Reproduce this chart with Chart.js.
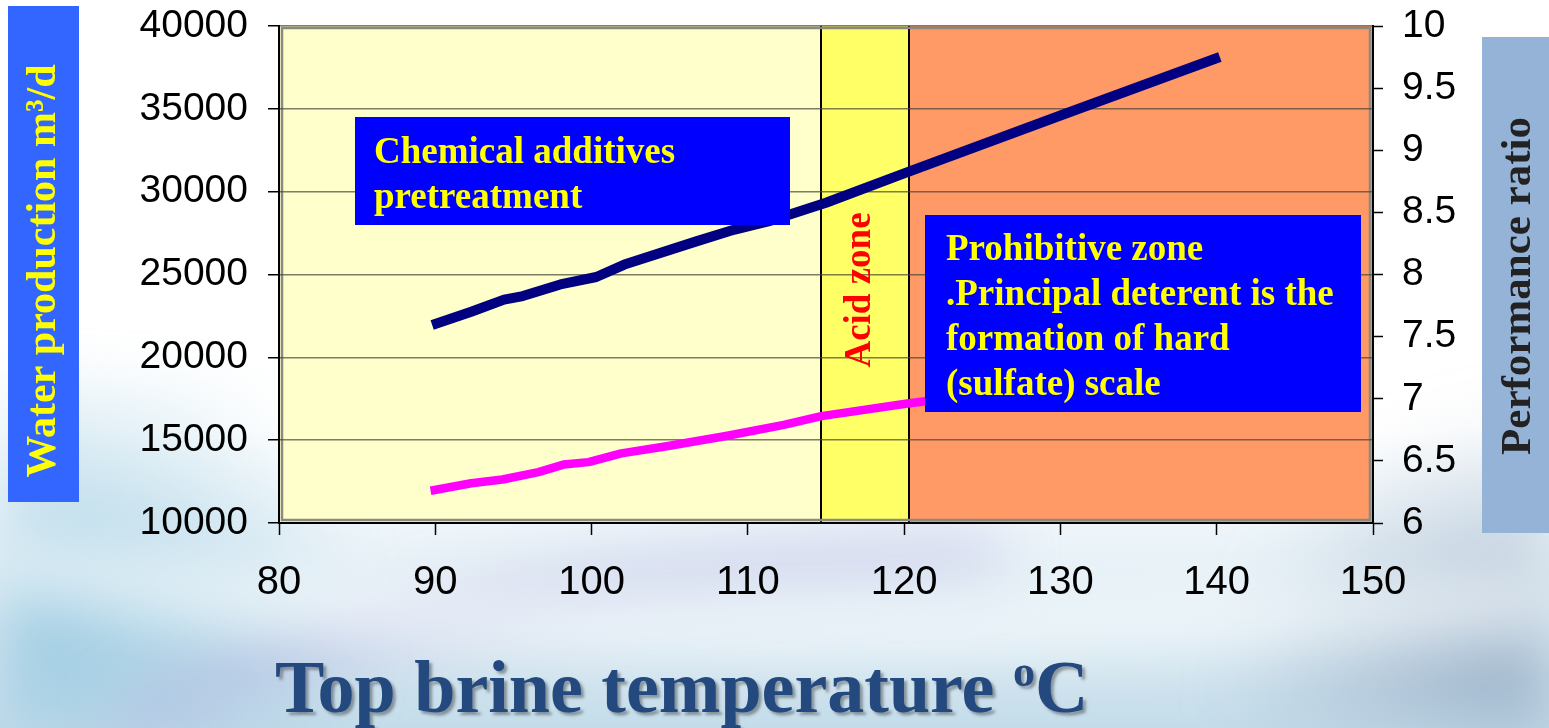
<!DOCTYPE html>
<html>
<head>
<meta charset="utf-8">
<script src="https://cdn.jsdelivr.net/npm/chart.js@4.4.0/dist/chart.umd.min.js"></script>
<style>
html, body { margin: 0; padding: 0; background: #fff; }
#wrap { width: 1549px; height: 728px; }
</style>
</head>
<body>
<div id="wrap"><canvas id="tbtChart" width="1549" height="728"></canvas></div>
<script>
// top brine temperature (x) for the water production line
var tbtWater = [89.8, 92.3, 94.4, 95.6, 98, 100.3, 102.1, 106.7, 109.1, 111.3, 115, 120, 130, 140.2];
var waterProduction = [21950, 22750, 23480, 23700, 24400, 24850, 25600, 27000, 27700, 28200, 29330, 31100, 34600, 38130];

// top brine temperature (x) for the performance ratio line
var tbtRatio = [89.7, 92.3, 94.3, 96.6, 98.2, 99.8, 101.9, 104.9, 108.6, 112.3, 114.7, 120.1, 122];
var performanceRatio = [6.26, 6.32, 6.35, 6.41, 6.47, 6.49, 6.56, 6.62, 6.70, 6.79, 6.86, 6.96, 6.99];

// tick labels
var xTicks = [80, 90, 100, 110, 120, 130, 140, 150];
var waterTicks = [10000, 15000, 20000, 25000, 30000, 35000, 40000];
var ratioTicks = [6, 6.5, 7, 7.5, 8, 8.5, 9, 9.5, 10];

// zones along the temperature axis
var zoneEdges = [80, 114.7, 120.3, 150];
var zoneColors = ['#FFFFCC', '#FFFF66', '#FF9966'];

function toPoints(xs, ys) {
    return xs.map(function (x, i) { return { x: x, y: ys[i] }; });
}

function vText(c, txt, x, y, font, color) {
    c.save();
    c.translate(x, y);
    c.rotate(-Math.PI / 2);
    c.font = font;
    c.fillStyle = color;
    c.textAlign = 'center';
    c.textBaseline = 'middle';
    c.fillText(txt, 0, 0);
    c.restore();
}

// slide background, zones, side titles and bottom title
var slidePlugin = {
    id: 'slide',
    beforeDraw: function (chart) {
        var c = chart.ctx, w = chart.width, h = chart.height;
        var a = chart.chartArea, xs = chart.scales.x;
        c.save();
        c.fillStyle = '#ffffff';
        c.fillRect(0, 0, w, h);

        var g = c.createLinearGradient(0, 430, 0, h);
        g.addColorStop(0, 'rgba(205,228,240,0)');
        g.addColorStop(1, 'rgba(196,220,234,1)');
        c.fillStyle = g;
        c.fillRect(0, 430, w, h - 430);

        c.filter = 'blur(30px)';
        var r = c.createRadialGradient(40, 640, 10, 40, 640, 330);
        r.addColorStop(0, 'rgba(150,200,224,0.8)');
        r.addColorStop(1, 'rgba(150,200,224,0)');
        c.fillStyle = r;
        c.fillRect(0, 380, 500, 348);

        var r2 = c.createRadialGradient(1540, 720, 10, 1540, 720, 320);
        r2.addColorStop(0, 'rgba(150,172,196,0.9)');
        r2.addColorStop(1, 'rgba(150,172,196,0)');
        c.fillStyle = r2;
        c.fillRect(1100, 400, 449, 328);

        // lavender streak
        c.strokeStyle = 'rgba(175,170,222,0.55)';
        c.lineWidth = 34;
        c.beginPath();
        c.moveTo(120, 728);
        c.bezierCurveTo(330, 620, 620, 560, 1000, 555);
        c.stroke();
        // white streak
        c.strokeStyle = 'rgba(255,255,255,0.8)';
        c.lineWidth = 40;
        c.beginPath();
        c.moveTo(0, 560);
        c.bezierCurveTo(300, 610, 700, 660, 1549, 600);
        c.stroke();
        c.filter = 'none';

        // zones
        for (var i = 0; i < zoneColors.length; i++) {
            var x0 = xs.getPixelForValue(zoneEdges[i]);
            var x1 = xs.getPixelForValue(zoneEdges[i + 1]);
            c.fillStyle = zoneColors[i];
            c.fillRect(x0, a.top, x1 - x0, a.bottom - a.top);
        }
        c.strokeStyle = '#000';
        c.lineWidth = 2;
        for (var j = 1; j < zoneEdges.length - 1; j++) {
            var xe = Math.round(xs.getPixelForValue(zoneEdges[j]));
            c.beginPath();
            c.moveTo(xe, a.top);
            c.lineTo(xe, a.bottom);
            c.stroke();
        }
        // plot frame
        c.strokeStyle = '#8a8a80';
        c.lineWidth = 2.5;
        c.strokeRect(a.left + 3, a.top + 2, a.right - a.left - 6, a.bottom - a.top - 5);

        // side titles
        c.fillStyle = '#3366FF';
        c.fillRect(8, 6, 71, 496);
        vText(c, 'Water production m³/d', 44, 271, 'bold 42px "Liberation Serif"', '#FFFF00');
        c.fillStyle = '#95B3D7';
        c.fillRect(1482, 37, 67, 496);
        vText(c, 'Performance ratio', 1519, 286, 'bold 43px "Liberation Serif"', '#222222');

        // bottom title
        c.shadowColor = 'rgba(0,0,0,0.35)';
        c.shadowOffsetX = 3;
        c.shadowOffsetY = 3;
        c.shadowBlur = 3;
        c.fillStyle = '#24497E';
        c.textBaseline = 'alphabetic';
        c.textAlign = 'left';
        c.font = 'bold 74px "Liberation Serif"';
        var t1 = 'Top brine temperature ';
        var tx = 275;
        c.fillText(t1, tx, 712);
        tx += c.measureText(t1).width;
        c.font = 'bold 44px "Liberation Serif"';
        c.fillText('o', tx, 686);
        tx += c.measureText('o').width;
        c.font = 'bold 74px "Liberation Serif"';
        c.fillText('C', tx, 712);
        c.restore();
    },
    afterDatasetsDraw: function (chart) {
        var c = chart.ctx;
        c.save();
        c.fillStyle = '#0000FF';
        c.fillRect(355, 117, 435, 108);
        c.fillRect(925, 215, 436, 197);
        c.fillStyle = '#FFFF00';
        c.font = 'bold 37px "Liberation Serif"';
        c.textAlign = 'left';
        c.textBaseline = 'alphabetic';
        c.fillText('Chemical additives', 374, 163);
        c.fillText('pretreatment', 374, 208);
        c.fillText('Prohibitive zone', 946, 260);
        c.fillText('.Principal deterent is the', 946, 305);
        c.fillText('formation of hard', 946, 350);
        c.fillText('(sulfate) scale', 946, 395);
        c.restore();
        vText(c, 'Acid zone', 860, 290, 'bold 37px "Liberation Serif"', '#FF0000');
    }
};

var ctx = document.getElementById('tbtChart');

var tbtChart = new Chart(ctx, {
    type: 'scatter',
    data: {
        datasets: [{
            label: 'Water production',
            data: toPoints(tbtWater, waterProduction),
            yAxisID: 'y',
            showLine: true,
            borderColor: '#000080',
            borderWidth: 10,
            pointRadius: 0,
            tension: 0,
            borderCapStyle: 'butt',
            borderJoinStyle: 'round'
        }, {
            label: 'Performance ratio',
            data: toPoints(tbtRatio, performanceRatio),
            yAxisID: 'y1',
            showLine: true,
            borderColor: '#FF00FF',
            borderWidth: 8.5,
            pointRadius: 0,
            tension: 0,
            borderCapStyle: 'butt',
            borderJoinStyle: 'round'
        }]
    },
    options: {
        responsive: false,
        animation: false,
        devicePixelRatio: 1,
        layout: { padding: { top: 26, left: 0, right: 0, bottom: 0 } },
        plugins: {
            legend: { display: false },
            tooltip: { enabled: false }
        },
        scales: {
            x: {
                type: 'linear',
                min: 80,
                max: 150,
                afterBuildTicks: function (s) { s.ticks = xTicks.map(function (v) { return { value: v }; }); },
                afterFit: function (s) { s.height = 205; s.paddingLeft = 0; s.paddingRight = 0; },
                grid: { drawOnChartArea: false, tickLength: 12, tickColor: '#000', tickWidth: 1.5 },
                border: { color: '#000', width: 2 },
                ticks: {
                    color: '#000',
                    padding: 24,
                    maxRotation: 0,
                    font: { family: '"Liberation Sans", Arial', size: 40 },
                    callback: function (v) { return String(v); }
                }
            },
            y: {
                position: 'left',
                min: 10000,
                max: 40000,
                afterBuildTicks: function (s) { s.ticks = waterTicks.map(function (v) { return { value: v }; }); },
                afterFit: function (s) { s.width = 279; s.paddingTop = 0; s.paddingBottom = 0; },
                grid: { color: 'rgba(70,70,55,0.7)', lineWidth: 1.5, tickLength: 11, tickColor: '#000', tickWidth: 1.5 },
                border: { color: '#000', width: 2 },
                ticks: {
                    color: '#000',
                    padding: 20,
                    font: { family: '"Liberation Sans", Arial', size: 39 },
                    callback: function (v) { return String(v); }
                }
            },
            y1: {
                position: 'right',
                min: 6,
                max: 10,
                afterBuildTicks: function (s) { s.ticks = ratioTicks.map(function (v) { return { value: v }; }); },
                afterFit: function (s) { s.width = 176; s.paddingTop = 0; s.paddingBottom = 0; },
                grid: { drawOnChartArea: false, tickLength: 10, tickColor: '#000', tickWidth: 1.5 },
                border: { color: '#000', width: 2 },
                ticks: {
                    color: '#000',
                    padding: 19,
                    font: { family: '"Liberation Sans", Arial', size: 39 },
                    callback: function (v) { return String(v); }
                }
            }
        }
    },
    plugins: [slidePlugin]
});
</script>
</body>
</html>
